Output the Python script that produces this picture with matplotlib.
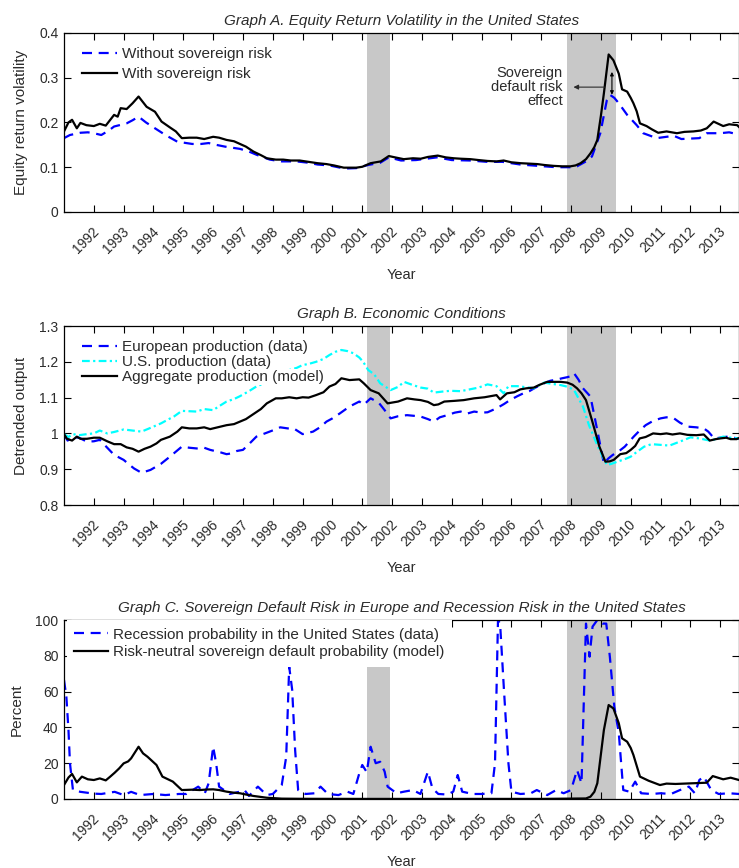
import matplotlib
matplotlib.use('Agg')
import matplotlib.pyplot as plt
import matplotlib.transforms as mtransforms
from matplotlib.ticker import FuncFormatter

# Graph A: equity return volatility (with / without sovereign risk)
vol_with_years = [1991.0, 1991.15, 1991.27, 1991.43, 1991.55, 1991.75, 1992.0, 1992.2, 1992.4, 1992.68,
                  1992.8, 1992.9, 1993.1, 1993.3, 1993.5, 1993.77, 1994.05, 1994.27, 1994.55, 1994.75,
                  1994.95, 1995.2, 1995.45, 1995.7, 1996.0, 1996.2, 1996.45, 1996.7, 1996.9, 1997.1,
                  1997.35, 1997.6, 1997.8, 1998.1, 1998.35, 1998.6, 1998.9, 1999.2, 1999.5, 1999.8,
                  2000.05, 2000.38, 2000.8, 2001.0, 2001.28, 2001.62, 2001.89, 2002.1, 2002.39, 2002.7,
                  2002.96, 2003.2, 2003.53, 2003.8, 2004.07, 2004.3, 2004.63, 2004.9, 2005.2, 2005.5,
                  2005.74, 2006.0, 2006.31, 2006.6, 2006.87, 2007.1, 2007.42, 2007.7, 2007.98, 2008.15,
                  2008.32, 2008.5, 2008.65, 2008.78, 2008.88, 2009.0, 2009.1, 2009.26, 2009.42, 2009.6,
                  2009.71, 2009.88, 2010.0, 2010.09, 2010.2, 2010.31, 2010.53, 2010.7, 2010.92, 2011.2,
                  2011.55, 2011.8, 2012.1, 2012.35, 2012.55, 2012.78, 2013.1, 2013.3, 2013.57, 2013.63]
vol_with = [0.180, 0.200, 0.206, 0.187, 0.199, 0.194, 0.192, 0.197, 0.193, 0.217,
            0.213, 0.232, 0.230, 0.243, 0.258, 0.235, 0.224, 0.202, 0.189, 0.180,
            0.165, 0.166, 0.166, 0.163, 0.168, 0.166, 0.161, 0.158, 0.152, 0.146,
            0.135, 0.127, 0.120, 0.117, 0.117, 0.115, 0.115, 0.112, 0.109, 0.107,
            0.104, 0.099, 0.099, 0.101, 0.109, 0.113, 0.125, 0.122, 0.118, 0.120,
            0.119, 0.123, 0.126, 0.122, 0.120, 0.119, 0.118, 0.116, 0.114, 0.113,
            0.115, 0.111, 0.109, 0.108, 0.107, 0.105, 0.103, 0.102, 0.102, 0.104,
            0.109, 0.118, 0.131, 0.145, 0.161, 0.215, 0.265, 0.352, 0.339, 0.309,
            0.274, 0.269, 0.255, 0.243, 0.225, 0.198, 0.192, 0.185, 0.177, 0.180,
            0.176, 0.179, 0.180, 0.182, 0.187, 0.202, 0.192, 0.196, 0.194, 0.190]

vol_without_years = [1991.0, 1991.2, 1991.55, 1991.8, 1992.0, 1992.25, 1992.5, 1992.68, 1993.1, 1993.3,
                     1993.5, 1993.75, 1994.05, 1994.4, 1994.8, 1995.3, 1995.6, 1995.85, 1996.1, 1996.4,
                     1996.9, 1997.2, 1997.45, 1997.9, 1998.3, 1998.8, 1999.2, 1999.5, 1999.9, 2000.4,
                     2000.8, 2001.2, 2001.6, 2001.89, 2002.3, 2002.8, 2003.5, 2004.0, 2004.6, 2005.2,
                     2005.7, 2006.3, 2006.9, 2007.5, 2008.0, 2008.2, 2008.5, 2008.7, 2008.98, 2009.2,
                     2009.3, 2009.45, 2009.6, 2009.88, 2010.2, 2010.42, 2010.87, 2011.2, 2011.45, 2011.7,
                     2012.0, 2012.3, 2012.55, 2013.0, 2013.3, 2013.63]
vol_without = [0.165, 0.172, 0.177, 0.178, 0.176, 0.172, 0.182, 0.191, 0.198, 0.205,
               0.213, 0.200, 0.187, 0.172, 0.157, 0.152, 0.152, 0.154, 0.150, 0.146,
               0.141, 0.135, 0.128, 0.117, 0.113, 0.113, 0.110, 0.106, 0.104, 0.097,
               0.098, 0.105, 0.110, 0.122, 0.115, 0.116, 0.122, 0.116, 0.115, 0.112,
               0.112, 0.106, 0.103, 0.100, 0.100, 0.102, 0.113, 0.124, 0.176, 0.250,
               0.262, 0.255, 0.243, 0.217, 0.194, 0.176, 0.165, 0.168, 0.170, 0.163,
               0.164, 0.165, 0.176, 0.176, 0.178, 0.173]

# Graph B: detrended output
agg_years = [1991.0, 1991.1, 1991.27, 1991.43, 1991.55, 1991.77, 1992.0, 1992.2, 1992.45, 1992.68,
             1992.9, 1993.1, 1993.3, 1993.5, 1993.7, 1993.9, 1994.1, 1994.25, 1994.55, 1994.8,
             1994.95, 1995.2, 1995.45, 1995.7, 1995.9, 1996.2, 1996.45, 1996.7, 1996.9, 1997.1,
             1997.35, 1997.6, 1997.8, 1998.1, 1998.3, 1998.55, 1998.8, 1999.0, 1999.2, 1999.45,
             1999.7, 1999.9, 2000.1, 2000.3, 2000.57, 2000.9, 2001.05, 2001.28, 2001.55, 2001.85,
             2002.2, 2002.5, 2002.75, 2002.96, 2003.2, 2003.4, 2003.55, 2003.75, 2004.1, 2004.4,
             2004.75, 2005.1, 2005.5, 2005.62, 2005.85, 2006.1, 2006.3, 2006.5, 2006.75, 2006.95,
             2007.2, 2007.65, 2007.87, 2008.05, 2008.2, 2008.35, 2008.5, 2008.7, 2008.95, 2009.15,
             2009.3, 2009.43, 2009.65, 2009.85, 2010.0, 2010.15, 2010.3, 2010.5, 2010.75, 2011.0,
             2011.2, 2011.4, 2011.65, 2011.9, 2012.2, 2012.45, 2012.65, 2012.85, 2013.0, 2013.2,
             2013.35, 2013.55, 2013.63]
agg_output = [0.998, 0.985, 0.980, 0.991, 0.985, 0.985, 0.988, 0.988, 0.978, 0.970,
              0.970, 0.961, 0.957, 0.949, 0.957, 0.963, 0.972, 0.982, 0.991, 1.005,
              1.017, 1.014, 1.014, 1.017, 1.012, 1.018, 1.023, 1.026, 1.033, 1.040,
              1.054, 1.068, 1.084, 1.098, 1.098, 1.101, 1.098, 1.101, 1.100, 1.107,
              1.115, 1.131, 1.138, 1.154, 1.149, 1.151, 1.140, 1.121, 1.112, 1.084,
              1.089, 1.098, 1.095, 1.093, 1.088, 1.079, 1.081, 1.089, 1.091, 1.093,
              1.098, 1.101, 1.107, 1.095, 1.112, 1.115, 1.123, 1.126, 1.128, 1.136,
              1.144, 1.144, 1.142, 1.136, 1.126, 1.112, 1.093, 1.037, 0.963, 0.921,
              0.922, 0.926, 0.942, 0.945, 0.954, 0.965, 0.986, 0.990, 1.000, 0.998,
              1.000, 0.997, 1.000, 0.996, 0.995, 0.997, 0.980, 0.984, 0.986, 0.988,
              0.984, 0.984, 0.987]

us_years = [1991.0, 1991.15, 1991.3, 1991.5, 1991.77, 1992.0, 1992.2, 1992.45, 1992.68, 1993.0,
            1993.3, 1993.6, 1993.8, 1994.0, 1994.25, 1994.45, 1994.7, 1994.95, 1995.2, 1995.45,
            1995.7, 1996.0, 1996.2, 1996.45, 1996.7, 1996.9, 1997.2, 1997.45, 1997.7, 1998.0,
            1998.3, 1998.55, 1998.8, 1999.0, 1999.2, 1999.45, 1999.7, 1999.9, 2000.1, 2000.3,
            2000.5, 2000.7, 2000.9, 2001.03, 2001.2, 2001.4, 2001.6, 2001.95, 2002.2, 2002.4,
            2002.7, 2002.96, 2003.2, 2003.4, 2003.7, 2003.95, 2004.3, 2004.6, 2004.9, 2005.2,
            2005.5, 2005.74, 2005.9, 2006.2, 2006.4, 2006.75, 2007.1, 2007.4, 2007.65, 2007.9,
            2008.1, 2008.4, 2008.6, 2008.9, 2009.2, 2009.35, 2009.55, 2009.8, 2010.0, 2010.2,
            2010.45, 2010.7, 2011.0, 2011.3, 2011.55, 2011.8, 2012.0, 2012.3, 2012.65, 2012.9,
            2013.1, 2013.35, 2013.63]
us_output = [0.998, 0.990, 0.998, 0.995, 0.998, 1.000, 1.008, 1.000, 1.004, 1.011,
             1.008, 1.005, 1.012, 1.019, 1.028, 1.037, 1.048, 1.063, 1.062, 1.061,
             1.068, 1.065, 1.076, 1.089, 1.096, 1.104, 1.118, 1.131, 1.140, 1.150,
             1.165, 1.177, 1.183, 1.191, 1.194, 1.200, 1.208, 1.219, 1.228, 1.233,
             1.230, 1.224, 1.212, 1.200, 1.177, 1.165, 1.140, 1.121, 1.130, 1.144,
             1.135, 1.128, 1.125, 1.114, 1.117, 1.119, 1.118, 1.123, 1.128, 1.137,
             1.132, 1.112, 1.132, 1.132, 1.130, 1.126, 1.142, 1.138, 1.135, 1.130,
             1.121, 1.075, 1.023, 0.963, 0.912, 0.915, 0.921, 0.928, 0.935, 0.948,
             0.963, 0.970, 0.968, 0.966, 0.974, 0.982, 0.989, 0.986, 0.980, 0.985,
             0.991, 0.988, 0.986]

eu_years = [1991.0, 1991.12, 1991.3, 1991.5, 1991.77, 1992.0, 1992.2, 1992.45, 1992.68, 1993.0,
            1993.2, 1993.35, 1993.6, 1993.9, 1994.25, 1994.55, 1994.95, 1995.2, 1995.45, 1995.7,
            1995.9, 1996.25, 1996.45, 1996.6, 1996.8, 1997.0, 1997.2, 1997.45, 1997.8, 1998.05,
            1998.25, 1998.5, 1998.7, 1999.0, 1999.35, 1999.6, 1999.8, 2000.0, 2000.25, 2000.57,
            2000.9, 2001.05, 2001.28, 2001.55, 2001.75, 2001.95, 2002.2, 2002.5, 2002.75, 2002.96,
            2003.2, 2003.4, 2003.6, 2003.85, 2004.1, 2004.3, 2004.5, 2004.75, 2005.0, 2005.2,
            2005.5, 2005.75, 2005.95, 2006.2, 2006.4, 2006.6, 2006.85, 2007.1, 2007.3, 2007.5,
            2007.7, 2007.87, 2008.0, 2008.1, 2008.25, 2008.4, 2008.65, 2008.9, 2009.1, 2009.25,
            2009.4, 2009.6, 2009.8, 2010.1, 2010.3, 2010.5, 2010.75, 2011.0, 2011.2, 2011.45,
            2011.65, 2011.9, 2012.2, 2012.45, 2012.6, 2012.8, 2013.0, 2013.25, 2013.45, 2013.63]
eu_output = [0.998, 0.980, 0.990, 0.988, 0.977, 0.978, 0.982, 0.960, 0.940, 0.926,
             0.912, 0.902, 0.890, 0.898, 0.915, 0.935, 0.963, 0.960, 0.958, 0.960,
             0.954, 0.947, 0.942, 0.944, 0.951, 0.954, 0.970, 0.991, 1.002, 1.010,
             1.017, 1.014, 1.014, 0.998, 1.005, 1.018, 1.033, 1.042, 1.056, 1.075,
             1.089, 1.080, 1.098, 1.086, 1.065, 1.042, 1.048, 1.051, 1.049, 1.047,
             1.040, 1.033, 1.045, 1.051, 1.058, 1.061, 1.055, 1.061, 1.058, 1.059,
             1.070, 1.082, 1.093, 1.104, 1.112, 1.118, 1.130, 1.140, 1.147, 1.150,
             1.154, 1.157, 1.160, 1.168, 1.150, 1.126, 1.103, 1.000, 0.916, 0.930,
             0.940, 0.950, 0.963, 0.991, 1.008, 1.023, 1.035, 1.042, 1.045, 1.042,
             1.030, 1.019, 1.017, 1.014, 1.005, 0.986, 0.988, 0.991, 0.988, 0.985]

# Graph C: recession probability (data) and sovereign default probability (model), percent
rec_years = [1991.0, 1991.08, 1991.15, 1991.2, 1991.3, 1991.55, 1992.0, 1992.25, 1992.7, 1993.0,
             1993.25, 1993.55, 1994.0, 1994.4, 1994.85, 1995.1, 1995.5, 1995.72, 1995.85, 1996.0,
             1996.1, 1996.2, 1996.55, 1996.9, 1997.05, 1997.2, 1997.5, 1997.8, 1998.0, 1998.3,
             1998.45, 1998.55, 1998.65, 1998.75, 1998.85, 1999.1, 1999.4, 1999.6, 1999.85, 2000.2,
             2000.5, 2000.7, 2000.9, 2001.0, 2001.15, 2001.28, 2001.45, 2001.6, 2001.75, 2001.85,
             2002.15, 2002.4, 2002.7, 2002.95, 2003.2, 2003.35, 2003.55, 2003.85, 2004.05, 2004.2,
             2004.35, 2004.7, 2005.0, 2005.33, 2005.45, 2005.55, 2005.62, 2005.75, 2005.9, 2006.0,
             2006.3, 2006.65, 2006.85, 2007.2, 2007.5, 2007.75, 2008.0, 2008.2, 2008.35, 2008.5,
             2008.62, 2008.72, 2008.88, 2009.05, 2009.18, 2009.3, 2009.45, 2009.6, 2009.75, 2009.95,
             2010.15, 2010.35, 2010.7, 2011.0, 2011.35, 2011.65, 2011.95, 2012.15, 2012.3, 2012.45,
             2012.7, 2012.95, 2013.3, 2013.63]
rec_prob = [66.5, 57.0, 38.5, 20.0, 5.0, 4.0, 3.0, 2.8, 4.0, 2.2,
            4.0, 2.2, 2.8, 2.2, 2.8, 2.8, 6.9, 3.2, 8.8, 29.2,
            20.0, 6.9, 2.8, 4.1, 5.0, 1.7, 6.9, 2.2, 2.8, 7.8,
            23.6, 73.9, 61.0, 27.0, 5.0, 2.8, 3.2, 6.9, 2.8, 2.2,
            4.1, 2.8, 14.3, 19.0, 15.0, 29.2, 20.0, 20.8, 15.3, 6.9,
            3.2, 4.1, 5.0, 2.8, 15.3, 6.0, 2.8, 2.5, 4.1, 13.4,
            4.1, 2.8, 2.8, 3.2, 20.0, 100.0, 98.0, 61.0, 20.0, 4.1,
            2.8, 3.2, 5.0, 2.2, 5.0, 3.2, 5.0, 16.2, 8.8, 98.0,
            79.5, 96.3, 100.0, 98.0, 98.0, 79.5, 51.6, 36.7, 5.0, 4.1,
            9.7, 3.2, 2.8, 3.2, 2.8, 5.0, 6.9, 3.2, 10.6, 12.5,
            5.0, 2.8, 3.2, 2.8]

default_years = [1991.0, 1991.15, 1991.27, 1991.43, 1991.6, 1991.8, 1992.0, 1992.2, 1992.4, 1992.55,
                 1992.7, 1992.85, 1993.0, 1993.15, 1993.25, 1993.5, 1993.65, 1993.8, 1994.1, 1994.3,
                 1994.65, 1994.95, 1995.3, 1995.55, 1995.8, 1996.0, 1996.2, 1996.45, 1996.7, 1996.9,
                 1997.1, 1997.35, 1997.8, 1998.3, 1999.0, 2001.0, 2004.0, 2007.0, 2008.5, 2008.65,
                 2008.78, 2008.88, 2009.0, 2009.1, 2009.26, 2009.42, 2009.6, 2009.71, 2009.88, 2010.0,
                 2010.09, 2010.31, 2010.6, 2010.98, 2011.2, 2011.5, 2011.8, 2012.1, 2012.55, 2012.75,
                 2013.1, 2013.35, 2013.63]
default_prob = [7.8, 12.0, 14.0, 9.3, 12.5, 11.0, 10.6, 11.5, 10.4, 12.5,
                14.7, 17.1, 19.9, 21.0, 22.7, 29.2, 25.5, 23.6, 19.0, 12.5,
                9.7, 5.0, 5.2, 5.0, 5.3, 5.4, 5.0, 4.1, 3.5, 3.2,
                2.5, 1.7, 0.7, 0.2, 0.1, 0.05, 0.05, 0.05, 0.3, 1.3,
                4.0, 8.8, 25.0, 38.5, 52.5, 50.6, 42.3, 33.9, 32.0, 28.5,
                24.6, 12.5, 10.2, 7.8, 8.6, 8.4, 8.6, 8.8, 9.1, 12.8,
                11.0, 11.9, 10.6]

recessions = [(2001.17, 2001.92), (2007.88, 2009.49)]
year_ticks = list(range(1992, 2014))

text_color = '#2b2b2b'
blue_dash = (0, (4.5, 3))
cyan_dashdot = (0, (3.5, 1.5, 1, 1.5))

plt.rcParams['font.family'] = ['Liberation Sans', 'DejaVu Sans']
plt.rcParams['text.color'] = text_color
plt.rcParams['axes.labelcolor'] = text_color


def style_axes(fig, ax, ylim, yticks, ylabel, title):
    # Common frame, ticks, labels and recession shading for each graph
    ax.set_xlim(1991, 2013.63)
    ax.set_ylim(*ylim)
    for start, end in recessions:
        ax.axvspan(start, end, color='#c8c8c8', lw=0, zorder=0)
    ax.set_xticks(year_ticks)
    ax.set_xticklabels([str(y) for y in year_ticks], rotation=45, ha='right')
    ax.set_yticks(yticks)
    ax.yaxis.set_major_formatter(FuncFormatter(lambda v, p: f'{v:g}'))
    ax.tick_params(direction='in', top=True, right=True, length=5, width=0.8,
                   labelsize=10, labelcolor=text_color)
    ax.tick_params(axis='x', pad=9)
    ax.tick_params(axis='y', pad=4)
    # shift the rotated year labels a bit to the right (after tick_params, which resets transforms)
    offset = mtransforms.ScaledTranslation(8 / 100, 0, fig.dpi_scale_trans)
    for label in ax.get_xticklabels():
        label.set_transform(label.get_transform() + offset)
    for spine in ax.spines.values():
        spine.set_linewidth(0.9)
    ax.set_xlabel('Year', fontsize=10.5)
    ax.xaxis.set_label_coords(0.5, -0.315)
    ax.set_ylabel(ylabel, fontsize=11, labelpad=8)
    ax.set_title(title, fontstyle='italic', fontsize=11, pad=6)


def plot_volatility(fig):
    ax = fig.add_axes([0.0866, 0.7558, 0.9134, 0.2062])
    ax.plot(vol_without_years, vol_without, color='#0000ff', lw=1.6, linestyle=blue_dash,
            label='Without sovereign risk')
    ax.plot(vol_with_years, vol_with, color='black', lw=1.6, label='With sovereign risk')
    style_axes(fig, ax, (0, 0.4), [0, 0.1, 0.2, 0.3, 0.4], 'Equity return volatility',
               'Graph A. Equity Return Volatility in the United States')
    ax.legend(loc='upper left', bbox_to_anchor=(0.027, 0.92), fontsize=11, frameon=False,
              handlelength=2.3, handletextpad=0.3, labelspacing=0.38, borderpad=0, borderaxespad=0)
    # Sovereign default risk effect annotation
    ax.text(2007.72, 0.279, 'Sovereign\ndefault risk\neffect', ha='right', va='center',
            multialignment='right', fontsize=10.5, linespacing=1.0)
    ax.annotate('', xy=(2008.08, 0.279), xytext=(2009.12, 0.279),
                arrowprops=dict(arrowstyle='-|>', lw=0.8, color=text_color, mutation_scale=7,
                                shrinkA=0, shrinkB=0))
    ax.annotate('', xy=(2009.37, 0.262), xytext=(2009.37, 0.313),
                arrowprops=dict(arrowstyle='<|-|>', lw=0.8, color='black', mutation_scale=5,
                                shrinkA=0, shrinkB=0))


def plot_output(fig):
    ax = fig.add_axes([0.0866, 0.4182, 0.9134, 0.2062])
    ax.plot(eu_years, eu_output, color='#0000ff', lw=1.6, linestyle=blue_dash,
            label='European production (data)')
    ax.plot(us_years, us_output, color='#00ffff', lw=1.6, linestyle=cyan_dashdot,
            label='U.S. production (data)')
    ax.plot(agg_years, agg_output, color='black', lw=1.6, label='Aggregate production (model)')
    style_axes(fig, ax, (0.8, 1.3), [0.8, 0.9, 1.0, 1.1, 1.2, 1.3], 'Detrended output',
               'Graph B. Economic Conditions')
    leg = ax.legend(loc='upper left', bbox_to_anchor=(0.027, 0.92), fontsize=11, frameon=False,
                    handlelength=2.3, handletextpad=0.3, labelspacing=0.05, borderpad=0,
                    borderaxespad=0)
    # white background only behind the legend texts
    for t in leg.get_texts():
        t.set_bbox(dict(facecolor='white', edgecolor='none', pad=0.5))


def plot_default_risk(fig):
    ax = fig.add_axes([0.0866, 0.0795, 0.9134, 0.2062])
    ax.plot(rec_years, rec_prob, color='#0000ff', lw=1.6, linestyle=blue_dash,
            label='Recession probability in the United States (data)')
    ax.plot(default_years, default_prob, color='black', lw=1.6,
            label='Risk-neutral sovereign default probability (model)')
    style_axes(fig, ax, (0, 100), [0, 20, 40, 60, 80, 100], 'Percent',
               'Graph C. Sovereign Default Risk in Europe and Recession Risk in the United States')
    leg = ax.legend(loc='upper left', bbox_to_anchor=(0.004, 1.0), fontsize=11, frameon=True,
                    handlelength=2.2, handletextpad=0.3, labelspacing=0.25, borderpad=0.5,
                    borderaxespad=0, fancybox=False, framealpha=1)
    leg.get_frame().set_edgecolor('none')
    leg.get_frame().set_facecolor('white')


def main():
    fig = plt.figure(figsize=(7.39, 8.68), dpi=100)
    plot_volatility(fig)
    plot_output(fig)
    plot_default_risk(fig)
    fig.savefig('out.png', dpi=100)


if __name__ == "__main__":
    main()
